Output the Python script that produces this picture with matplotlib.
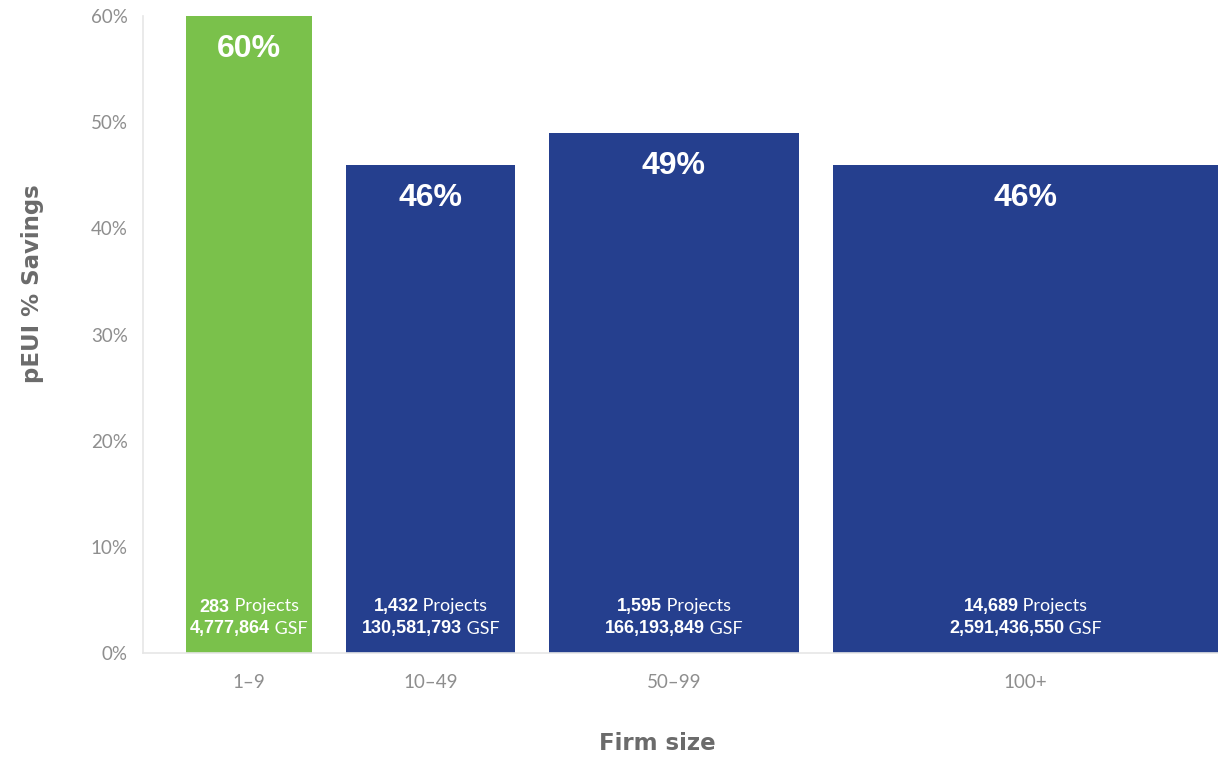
import matplotlib
matplotlib.use("Agg")
import matplotlib.pyplot as plt
from matplotlib.offsetbox import TextArea, HPacker, AnnotationBbox

# data
firm_sizes = ["1-9", "10-49", "50-99", "100+"]
savings = [60, 46, 49, 46]
projects = ["283", "1,432", "1,595", "14,689"]
gsf = ["4,777,864", "130,581,793", "166,193,849", "2,591,436,550"]
bar_widths = [126, 169, 250, 385]   # relative widths as drawn
highlight = [True, False, False, False]

GREEN = "#7AC14B"
BLUE = "#253F8E"
TICK = "#8e8e8e"
LABEL = "#6b6b6b"
LIGHT = ['Lato', 'DejaVu Sans']

plt.rcParams['font.family'] = ['Liberation Sans', 'DejaVu Sans']

fig = plt.figure(figsize=(12.18, 7.59), dpi=100)
W, H = 1218, 759
ax = fig.add_axes([143 / W, (H - 653) / H, 1075 / W, (653 - 16) / H])

gap = 34
left_pad = 43
lefts = []
x = left_pad
for w in bar_widths:
    lefts.append(x)
    x += w + gap
total = lefts[-1] + bar_widths[-1]

colors = [GREEN if h else BLUE for h in highlight]
ax.bar(lefts, savings, width=bar_widths, align="edge", color=colors, linewidth=0, zorder=2)

ax.set_xlim(0, total)
ax.set_ylim(0, 60)
ax.set_yticks(range(0, 61, 10))
ax.set_yticklabels([f"{v}%" for v in range(0, 61, 10)], family=LIGHT,
                   fontsize=13.5, color=TICK)
centers = [l + w / 2 for l, w in zip(lefts, bar_widths)]
ax.set_xticks(centers)
ax.set_xticklabels([s.replace("-", "\u2013") for s in firm_sizes], family=LIGHT,
                   fontsize=13.5, color=TICK)
ax.tick_params(axis="both", length=0)
ax.tick_params(axis="x", pad=15)
ax.tick_params(axis="y", pad=11)

for side in ["top", "right"]:
    ax.spines[side].set_visible(False)
for side in ["left", "bottom"]:
    ax.spines[side].set_color("#e6e6e6")
    ax.spines[side].set_linewidth(1.2)

for c, v in zip(centers, savings):
    ax.annotate(f"{v}%", (c, v), xytext=(0, -24), textcoords="offset points",
                ha="center", va="center", color="white", fontsize=23, fontweight="bold")

for c, p, g in zip(centers, projects, gsf):
    for y_off, num, unit in [(46, p, " Projects"), (24, g, " GSF")]:
        box = HPacker(children=[
            TextArea(num, textprops=dict(color="white", fontsize=13, fontweight="bold")),
            TextArea(unit, textprops=dict(color="white", fontsize=13, family=LIGHT)),
        ], pad=0, sep=0, align="baseline")
        ab = AnnotationBbox(box, (c, 0), xybox=(0, y_off * 0.72), xycoords="data",
                            boxcoords="offset points", frameon=False, box_alignment=(0.5, 0.5))
        ax.add_artist(ab)

fig.text(33 / W, 1 - 284 / H, "pEUI % Savings", rotation=90, ha="center", va="center",
         fontsize=16.5, fontweight="bold", color=LABEL, family="DejaVu Sans")
fig.text(657 / W, 1 - 744 / H, "Firm size", ha="center", va="center",
         fontsize=16.5, fontweight="bold", color=LABEL, family="DejaVu Sans")

fig.savefig("out.png", dpi=100)
